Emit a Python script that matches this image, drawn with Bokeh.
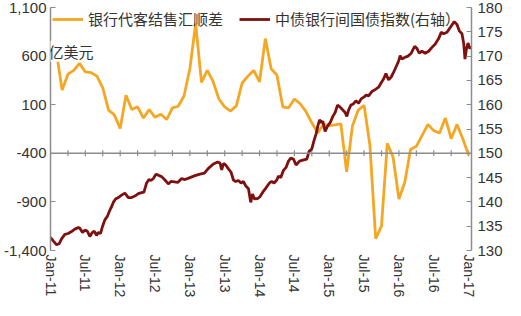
from math import pi
from bokeh.plotting import figure
from bokeh.models import (Range1d, LinearAxis, FixedTicker, NumeralTickFormatter,
                          Legend, LegendItem, Label, Span)
from bokeh.embed import file_html
from bokeh.resources import INLINE

# ---------------- data ----------------
# monthly, Jan-2011 .. Jan-2017 (month index 0..72)
fx_months = list(range(73))
fx_net = [700, 650, 250, 414, 453, 525, 437, 430, 394, 274, 44, -5,
          -145, 198, 51, 78, -37, 51, -30, 2, -53, 68, 84, 192,
          470, 933, 329, 453, 339, 159, 78, 35, 88, 323, 394, 453,
          335, 780, 470, 404, 78, 68, 159, 110, 29, -86, -190, -103,
          -115, -108, -96, -590, -118, 45, 94, -314, -1278, -1150, -298, -440,
          -870, -700, -360, -328, -216, -103, -167, -191, -37, -250, -103, -250,
          -420]

# bond index, time in months since Jan-2011
bond_t = [0.00, 0.47, 1.03, 1.50, 1.90, 2.47, 3.05, 3.62, 4.19, 4.78, 5.05, 5.52,
          5.91, 6.33, 6.78, 7.19, 7.53, 7.93, 8.22, 8.62, 8.97, 9.36, 9.78, 10.22,
          10.52, 10.81, 11.21, 11.67, 12.24, 12.81, 13.40, 13.97, 14.53, 15.12, 15.69,
          16.09, 16.55, 16.95, 17.29, 17.71, 18.16, 18.57, 19.14, 19.71, 20.29, 20.74,
          21.33, 21.90, 22.59, 23.16, 24.02, 24.88, 25.74, 26.50, 27.19, 28.05, 28.79,
          29.19, 29.48, 29.78, 30.17, 30.64, 31.09, 31.50, 31.90, 32.36, 32.81, 33.22,
          33.62, 34.09, 34.48, 34.78, 35.12, 35.69, 36.09, 36.55, 37.12, 37.71, 38.10,
          38.50, 38.97, 39.26, 39.66, 40.12, 40.57, 40.98, 41.38, 41.84, 42.29, 42.88,
          43.45, 44.14, 44.53, 45.00, 45.40, 45.74, 46.03, 46.33, 46.60, 46.90, 47.29,
          47.71, 48.16, 48.62, 49.02, 49.43, 49.88, 50.34, 50.74, 51.03, 51.33, 51.72,
          52.19, 52.59, 53.05, 53.50, 54.02, 54.36, 54.78, 55.34, 55.91, 56.50, 56.95,
          57.36, 57.76, 58.22, 58.67, 59.09, 59.48, 59.95, 60.22, 60.52, 60.98, 61.55,
          62.12, 62.71, 63.10, 63.50, 63.97, 64.53, 65.12, 65.69, 66.26, 66.84, 67.29,
          67.71, 68.28, 68.84, 69.53, 70.00, 70.40, 70.86, 71.16, 71.38, 71.60, 71.90,
          72.19, 72.50]
bond_v = [132.7, 132.0, 131.2, 131.4, 132.4, 133.3, 133.5, 133.9, 134.4, 134.7, 134.6, 133.7,
          134.2, 134.0, 132.9, 133.7, 134.0, 133.1, 133.7, 133.5, 135.0, 136.3, 137.0, 138.3,
          139.0, 139.9, 140.6, 140.9, 141.4, 141.8, 140.9, 140.9, 141.2, 141.7, 141.9,
          142.0, 143.9, 144.6, 144.4, 144.8, 145.7, 145.5, 145.2, 144.5, 143.7, 144.2,
          144.1, 144.0, 144.8, 144.6, 145.0, 145.4, 145.7, 145.9, 146.9, 147.8, 148.2,
          148.0, 146.6, 147.9, 147.6, 146.8, 146.1, 144.5, 144.2, 144.4, 143.9, 144.2,
          143.3, 142.7, 139.9, 141.6, 140.6, 140.7, 141.1, 142.0, 142.9, 143.9, 144.2,
          143.9, 144.5, 145.3, 145.0, 146.5, 147.1, 148.4, 149.0, 148.8, 147.6, 148.4,
          148.6, 148.8, 150.4, 150.9, 152.7, 154.0, 155.6, 156.9, 156.3, 156.6, 154.5,
          155.6, 156.3, 157.6, 158.4, 159.9, 159.5, 158.9, 158.4, 157.6, 158.9, 159.9,
          160.2, 160.8, 160.3, 161.2, 161.6, 162.0, 161.8, 162.7, 163.1, 163.6, 164.5,
          165.3, 166.4, 165.1, 165.7, 166.7, 167.7, 169.0, 170.1, 169.4, 169.7, 170.0,
          170.6, 172.0, 171.6, 170.6, 171.0, 170.6, 171.0, 171.8, 172.5, 173.6, 174.9,
          174.6, 174.9, 175.9, 177.1, 176.5, 175.2, 174.6, 172.6, 169.4, 171.3, 172.7,
          171.6, 171.8]

x_tick_pos = [0, 6, 12, 18, 24, 30, 36, 42, 48, 54, 60, 66, 72]
x_tick_labels = ["Jan-11", "Jul-11", "Jan-12", "Jul-12", "Jan-13", "Jul-13", "Jan-14",
                 "Jul-14", "Jan-15", "Jul-15", "Jan-16", "Jul-16", "Jan-17"]
quarter_ticks = list(range(0, 73, 3))
left_ticks = [-1400, -900, -400, 100, 600, 1100]
right_ticks = [130, 135, 140, 145, 150, 155, 160, 165, 170, 175, 180]

name_fx = "银行代客结售汇顺差"
name_bond = "中债银行间国债指数(右轴）"
unit_text = "亿美元"

# ---------------- styles ----------------
ORANGE = "#F5A623"
DARKRED = "#7F1010"
AXIS = "#8C8C8C"
TXT = "#333333"
NUM_FONT = "Liberation Sans"
CJK_FONT = "Noto Sans CJK SC"

p = figure(width=505, height=300, output_backend="svg", toolbar_location=None,
           x_range=Range1d(0, 72.5), y_range=Range1d(-1400, 1100),
           min_border_left=50, min_border_right=30, min_border_top=7,
           min_border_bottom=20)
p.extra_y_ranges = {"right": Range1d(130, 180)}
p.outline_line_color = None
p.xgrid.visible = False
p.ygrid.visible = False
p.background_fill_color = "white"

# x axis (labels only)
xa = p.xaxis[0]
xa.ticker = FixedTicker(ticks=x_tick_pos)
xa.major_label_overrides = {t: l for t, l in zip(x_tick_pos, x_tick_labels)}
xa.major_label_orientation = "vertical"
xa.axis_line_color = None
xa.major_tick_line_color = None
xa.major_tick_in = 0
xa.major_tick_out = 0
xa.minor_tick_line_color = None
xa.minor_tick_in = 0
xa.minor_tick_out = 0
xa.major_label_text_font = NUM_FONT
xa.major_label_text_font_size = "14px"
xa.major_label_text_color = TXT
xa.major_label_standoff = 4
xa.axis_label = None

# left axis
ya = p.yaxis[0]
ya.ticker = FixedTicker(ticks=left_ticks)
ya.formatter = NumeralTickFormatter(format="0,0")
ya.axis_line_color = AXIS
ya.axis_line_width = 1.5
ya.major_tick_line_color = AXIS
ya.major_tick_in = 5
ya.major_tick_out = 0
ya.minor_tick_line_color = None
ya.major_label_text_font = NUM_FONT
ya.major_label_text_font_size = "15px"
ya.major_label_text_color = TXT
ya.major_label_standoff = 4

# right axis
ra = LinearAxis(y_range_name="right", ticker=FixedTicker(ticks=right_ticks))
ra.axis_line_color = AXIS
ra.axis_line_width = 1.5
ra.major_tick_line_color = AXIS
ra.major_tick_in = 5
ra.major_tick_out = 0
ra.minor_tick_line_color = None
ra.major_label_text_font = NUM_FONT
ra.major_label_text_font_size = "15px"
ra.major_label_text_color = TXT
ra.major_label_standoff = 6
p.add_layout(ra, "right")

# horizontal base line at -400 with tick marks
p.add_layout(Span(location=-400, dimension="width", line_color=AXIS, line_width=1.5))
p.scatter(x=quarter_ticks, y=[-400] * len(quarter_ticks), marker="dash", angle=pi / 2,
          size=6, line_color=AXIS, line_width=1.2)

r1 = p.line(fx_months, fx_net, line_color=ORANGE, line_width=2.8)
r2 = p.line(bond_t, bond_v, y_range_name="right", line_color=DARKRED, line_width=2.8)

legend = Legend(items=[LegendItem(label=name_fx, renderers=[r1]),
                       LegendItem(label=name_bond, renderers=[r2])],
                orientation="horizontal", location=(2, 221),
                margin=0, padding=0, spacing=16, glyph_width=31, glyph_height=12,
                label_height=12, label_standoff=5,
                label_text_font=CJK_FONT, label_text_font_size="15px",
                label_text_color=TXT, border_line_color=None,
                background_fill_alpha=0)
p.add_layout(legend)

p.add_layout(Label(x=0, y=650, text=unit_text, x_offset=-2, text_font=CJK_FONT,
                   text_font_size="15px", text_baseline="middle", text_color=TXT,
                   background_fill_color="white"))

open("out.html", "w").write(file_html(p, INLINE))
